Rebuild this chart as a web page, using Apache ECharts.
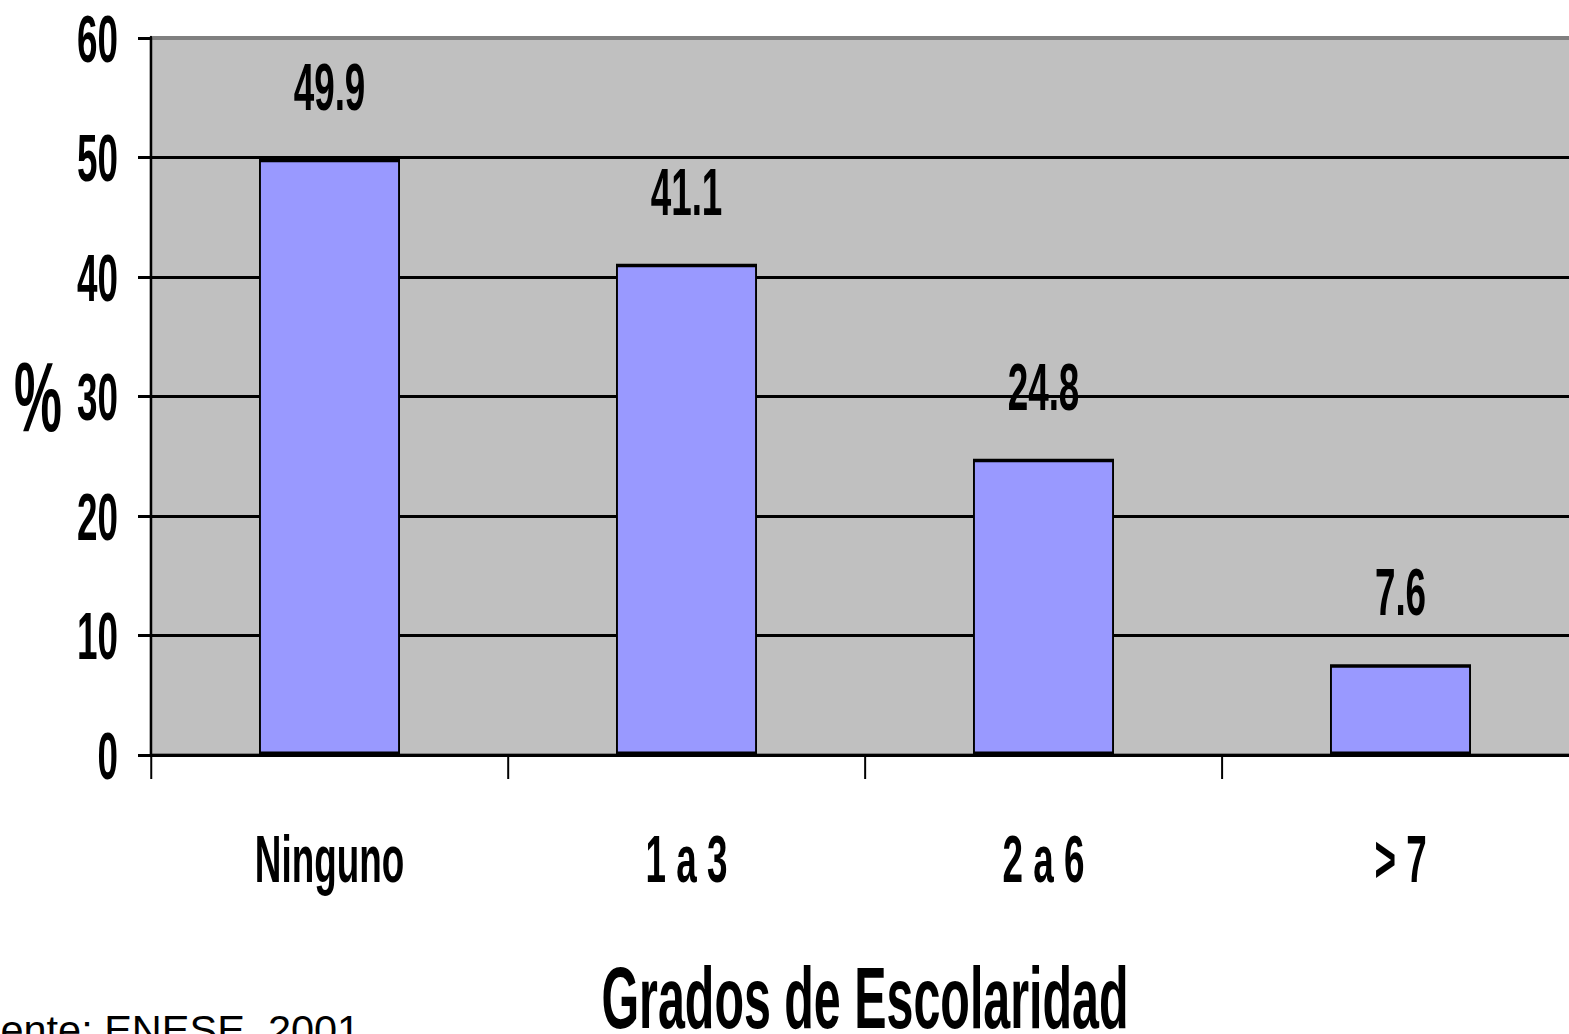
<!DOCTYPE html>
<html>
<head>
<meta charset="utf-8">
<script src="https://cdn.jsdelivr.net/npm/echarts@6/dist/echarts.min.js"></script>
<style>
html,body{margin:0;padding:0;background:#fff;overflow:hidden;}
#wrap{width:1569px;height:1034px;overflow:hidden;position:relative;}
#chart{position:absolute;left:0;top:0;height:1034px;transform-origin:0 0;}
</style>
</head>
<body>
<div id="wrap"><div id="chart"></div></div>
<script>
var categories = ['Ninguno', '1 a 3', '2 a 6', '> 7'];
var values = [49.9, 41.1, 24.8, 7.6];
var yTicks = [0, 10, 20, 30, 40, 50, 60];
var xTitle = 'Grados de Escolaridad';
var yTitle = '%';
var source = 'Fuente: ENESE, 2001';

// The reference uses a tall, very condensed bold face; reproduce it by
// compressing the whole drawing horizontally and widening its layout to match.
var SX = 0.55;
var W = 1569 / SX;
var el = document.getElementById('chart');
el.style.width = W + 'px';
el.style.transform = 'scaleX(' + SX + ')';

function px(v) { return v / SX; } // horizontal screen px -> chart px

var FONT = "'Liberation Sans', Arial, sans-serif";
var chart = echarts.init(el, null, {renderer: 'svg', width: W, height: 1034});
chart.setOption({
  animation: false,
  backgroundColor: '#ffffff',
  grid: {
    left: px(151), top: 38, width: px(1428), height: 717,
    show: true, backgroundColor: '#c0c0c0', borderColor: '#808080', borderWidth: 4,
    outerBoundsMode: 'none', containLabel: false
  },
  xAxis: {
    type: 'category',
    data: categories,
    name: xTitle,
    nameLocation: 'middle',
    nameGap: 199,
    nameTextStyle: {fontFamily: FONT, fontWeight: 'bold', fontSize: 88, lineHeight: 88, color: '#000'},
    axisLine: {lineStyle: {color: '#000', width: 3}},
    axisTick: {show: true, length: 24, lineStyle: {color: '#000', width: px(2)}},
    axisLabel: {fontFamily: FONT, fontWeight: 'bold', fontSize: 67, lineHeight: 67, color: '#000', margin: 70}
  },
  yAxis: {
    type: 'value',
    min: yTicks[0], max: yTicks[yTicks.length - 1], interval: 10,
    name: yTitle,
    nameLocation: 'middle',
    nameRotate: 0,
    nameGap: px(89),
    nameTextStyle: {fontFamily: FONT, fontWeight: 'bold', fontSize: 98, color: '#000'},
    axisLine: {show: true, lineStyle: {color: '#000', width: px(2.5)}},
    axisTick: {show: true, length: px(13), lineStyle: {color: '#000', width: 3}},
    axisLabel: {fontFamily: FONT, fontWeight: 'bold', fontSize: 67, color: '#000', margin: px(33)},
    splitLine: {show: true, lineStyle: {color: ['#000', '#000', '#000', '#000', '#000', '#000', '#808080'], width: 3}}
  },
  series: [{
    type: 'bar',
    data: values,
    barWidth: px(141),
    itemStyle: {color: '#9999ff', borderColor: '#000', borderWidth: 3.5},
    label: {
      show: true, position: 'top', distance: 39,
      fontFamily: FONT, fontWeight: 'bold', fontSize: 67, lineHeight: 67, color: '#000',
      formatter: function (p) { return p.value.toFixed(1); }
    }
  }],
  graphic: [{
    type: 'text',
    x: px(-48), y: 1008,
    scaleX: 1 / SX,
    style: {text: source, fontFamily: FONT, fontSize: 41.5, fill: '#000'}
  }]
});
</script>
</body>
</html>
